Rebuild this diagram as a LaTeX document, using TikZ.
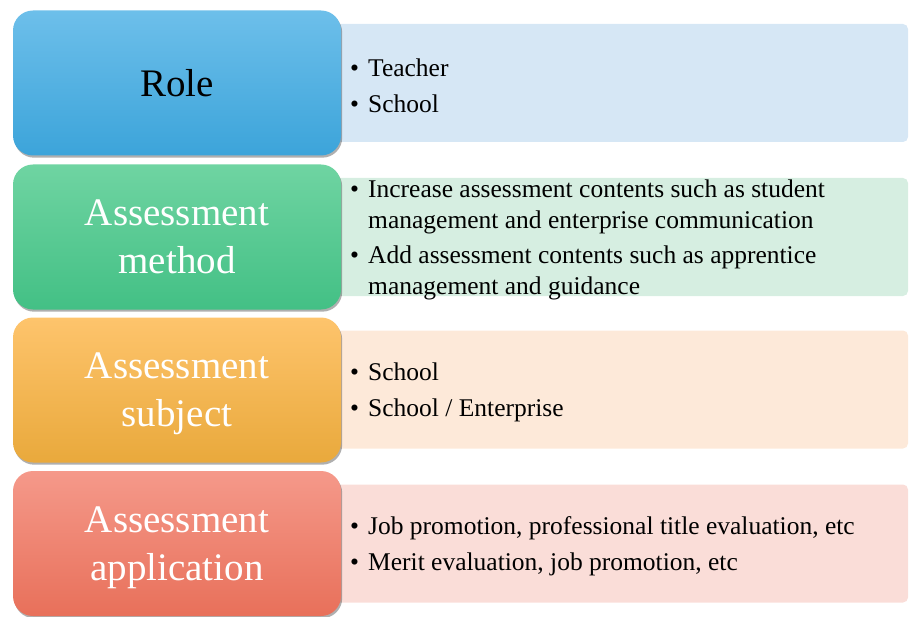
\documentclass[tikz,border=0pt]{standalone}
\usepackage{fontspec}
\setmainfont{Liberation Serif}
\usetikzlibrary{shadows}
\definecolor{btop}{HTML}{6DBFEA}
\definecolor{bbot}{HTML}{3CA4DA}
\definecolor{gtop}{HTML}{6FD4A2}
\definecolor{gbot}{HTML}{43C085}
\definecolor{otop}{HTML}{FEC46C}
\definecolor{obot}{HTML}{E9A93C}
\definecolor{rtop}{HTML}{F5998A}
\definecolor{rbot}{HTML}{E8705A}
\definecolor{pblue}{HTML}{D6E7F5}
\definecolor{pgreen}{HTML}{D6EEE1}
\definecolor{porange}{HTML}{FDE9D9}
\definecolor{pred}{HTML}{FADDD8}
\newcommand{\bul}{\makebox[18pt][l]{\textbullet}}
\newcommand{\ind}{\hspace*{18pt}}
\begin{document}
\begin{tikzpicture}[x=1pt,y=-1pt,
  panel/.style={rectangle, rounded corners=5pt, draw=none, minimum width=578pt, minimum height=118pt, inner sep=0pt},
  lbox/.style={rectangle, rounded corners=20pt, draw=none, minimum width=328pt, minimum height=145pt, inner sep=0pt,
    align=center, font=\fontsize{39}{48}\selectfont,
    drop shadow={shadow xshift=1.2pt, shadow yshift=-2.2pt, opacity=0.42, fill=black!75}},
  items/.style={anchor=west, inner sep=0pt, align=left, font=\fontsize{25.5}{30.8}\selectfont}]
\useasboundingbox (0,0) rectangle (909,617);
% panels
\node[panel, fill=pblue] (p1) at (619,83) {};
\node[panel, fill=pgreen] (p2) at (619,237) {};
\node[panel, fill=porange] (p3) at (619,389.5) {};
\node[panel, fill=pred] (p4) at (619,543.5) {};
% left boxes
\node[lbox, top color=btop, bottom color=bbot, text=black] (b1) at (177,83) {Role};
\node[lbox, top color=gtop, bottom color=gbot, text=white] (b2) at (177,237) {Assessment\\method};
\node[lbox, top color=otop, bottom color=obot, text=white] (b3) at (177,390) {Assessment\\\smash{subject}};
\node[lbox, top color=rtop, bottom color=rbot, text=white] (b4) at (177,543.5) {Assessment\\\smash{application}};
% items
\node[items] (t1) at (350,85.5) {\bul Teacher\\[5pt]\bul School};
\node[items] (t2) at (350,240) {\bul Increase assessment contents such as student\\\ind management and enterprise communication\\[5pt]\bul Add assessment contents such as apprentice\\\ind management and guidance};
\node[items] (t3) at (350,392.5) {\bul School\\[5pt]\bul School / Enterprise};
\node[items] (t4) at (350,546) {\bul Job promotion, professional title evaluation, etc\\[5pt]\bul Merit evaluation, job promotion, etc};
\end{tikzpicture}
\end{document}
